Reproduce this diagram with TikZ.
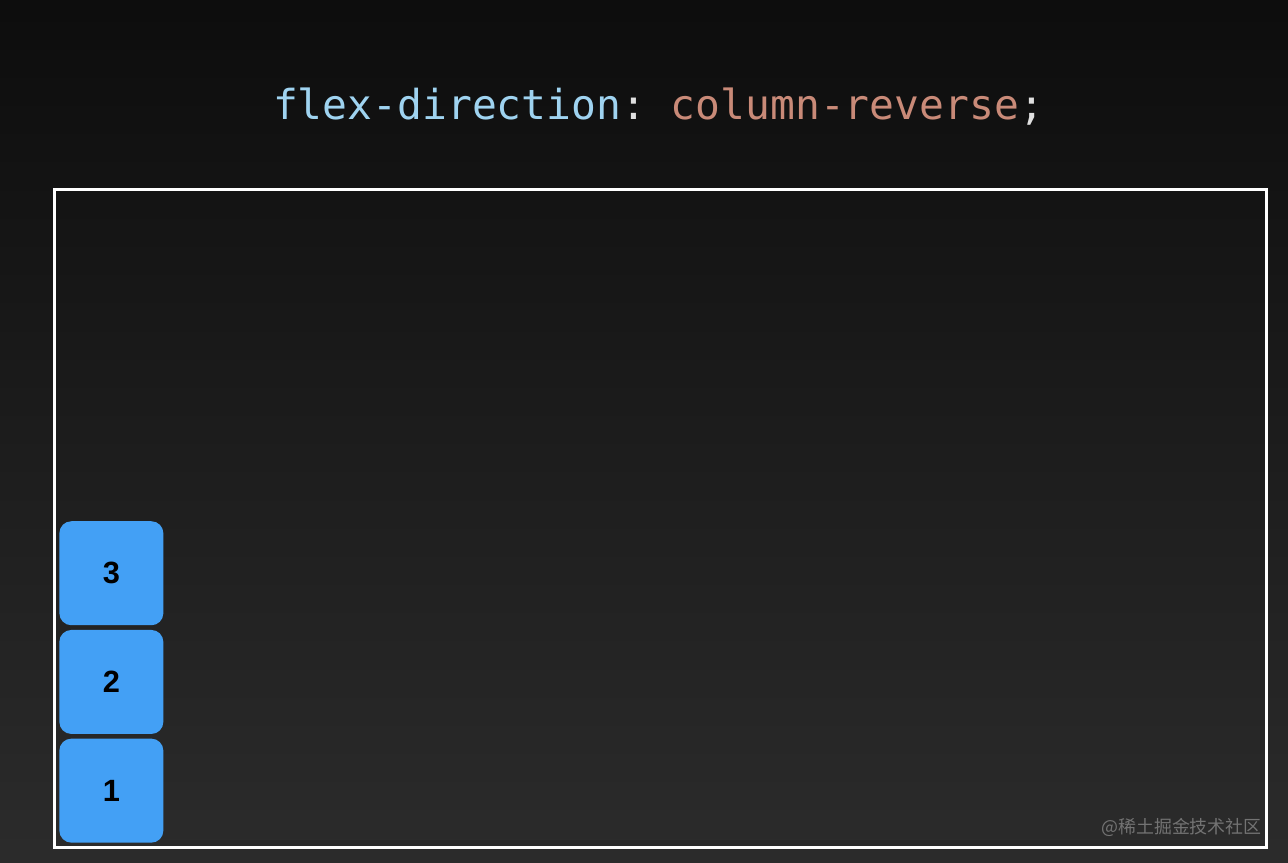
\documentclass[tikz,border=0pt]{standalone}
\usepackage{fontspec}
\setmainfont{Liberation Sans}
\setmonofont{DejaVu Sans Mono}
\newfontfamily\cjkfont{Noto Sans CJK SC}
\usepackage{tikz}
\usetikzlibrary{positioning}
\definecolor{propblue}{HTML}{9FD3F0}
\definecolor{valsalmon}{HTML}{C98A78}
\definecolor{itemblue}{HTML}{43A0F5}
\tikzset{itembox/.style={rectangle, rounded corners=0.24cm, fill=itemblue, minimum width=2.08cm, minimum height=2.08cm, inner sep=0pt, font=\bfseries\fontsize{17.5}{20}\selectfont}}
\tikzset{container/.style={rectangle, draw=white, line width=0.06cm, minimum width=24.24cm, minimum height=13.14cm, inner sep=0pt}}

\begin{document}
\begin{tikzpicture}
    \shade[top color=black!95, bottom color=black!83] (0,0) rectangle (25.76,17.24);
    \useasboundingbox (0,0) rectangle (25.76,17.24);
    \node [font=\ttfamily\fontsize{23.5}{28}\selectfont](title) at (13.17,15.1){\textcolor{propblue}{flex-direction}\textcolor{white!88!black}{:} \textcolor{valsalmon}{column-reverse}\textcolor{white!88!black}{;}};
    \node [container](box) at (13.2,6.87){};
    \node [itembox, anchor=south west](one) at (1.18,0.38){1};
    \node [itembox, above=0.08cm of one](two){2};
    \node [itembox, above=0.08cm of two](three){3};
    \node [anchor=east, inner sep=0pt, text=white!45!black, font=\cjkfont\fontsize{10.2}{12}\selectfont](mark) at (25.24,0.7){@稀土掘金技术社区};
\end{tikzpicture}
\end{document}
